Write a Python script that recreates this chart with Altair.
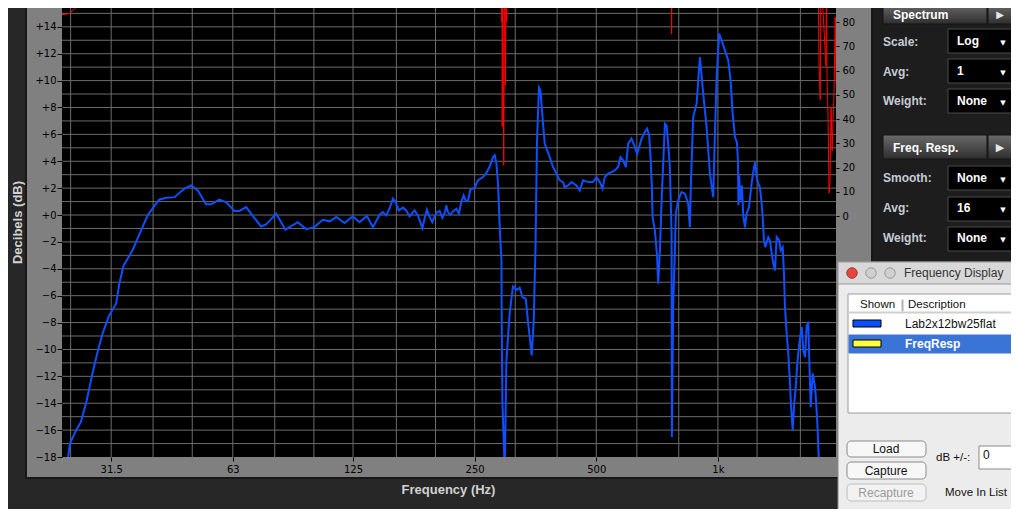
import altair as alt
import pandas as pd

# ---------------- data ----------------
# Blue curve: Lab2x12bw25flat (frequency in Hz, level in dB, left axis)
freq_hz = [24.5, 24.9, 25.8, 26.5, 27.4, 28.3, 29.2, 30.0, 31.1, 32.4,
           33.0, 33.8, 34.6, 35.6, 36.6, 38.8, 41.4, 43.1, 45.2, 47.8,
           49.7, 51.6, 54.1, 55.7, 58.3, 60.6, 63.6, 65.4, 68.0, 69.9,
           74.0, 76.2, 80.7, 85.0, 91.2, 95.7, 100.3, 105.2, 109.4, 113.6,
           119.1, 124.8, 129.7, 135.3, 140.0,
           145.4, 148.1, 151.0, 153.9, 156.9, 159.3, 162.3, 166.1, 169.3, 172.5,
           177.5, 180.9, 183.4, 185.6, 187.9, 190.4, 193.4, 196.4, 199.0, 201.7,
           204.8, 207.9, 211.1, 212.7, 214.6, 217.6, 220.9, 225.2, 228.6, 231.7,
           234.8, 237.5, 240.7, 243.9, 250.0, 254.7, 262.1, 267.2, 272.0, 277.6,
           280.3, 283.0, 285.6, 288.4,
           291.2, 291.8, 292.8, 296.7, 299.6, 302.3, 305.2, 310.9, 318.2, 323.1,
           328.3, 334.5, 338.9, 342.2, 346.0, 350.1, 352.1, 353.5, 355.5, 356.7,
           360.7, 363.7, 369.1, 372.7,
           383.5, 390.8, 398.5, 406.0, 413.7, 417.8, 425.7, 434.0, 446.6, 455.0,
           463.7, 477.1, 491.0, 500.6, 510.1, 518.0, 524.9, 534.8, 545.2, 555.7,
           566.2, 574.0, 582.6, 591.7, 599.6, 611.2, 622.8, 631.0, 638.3, 647.1,
           659.3, 668.0, 675.8, 681.1, 686.3,
           689.2, 698.1, 707.3, 711.5, 718.5, 725.5, 739.2, 746.4, 753.2, 760.5,
           767.9, 769.2, 774.9, 782.4, 786.9, 797.2, 812.8, 828.5, 844.1, 852.3,
           857.3, 868.5, 885.6, 902.4, 919.6, 937.6, 955.4, 973.5, 983.0, 992.6,
           1007.4, 1021.4, 1040.7, 1060.5, 1075.0, 1087.5, 1101.9,
           1114.5, 1120.9, 1124.1, 1129.2, 1135.6, 1146.7, 1155.2, 1166.5, 1177.9, 1193.4,
           1212.0, 1228.0, 1237.1, 1247.0, 1258.5, 1270.7, 1283.0, 1290.4, 1300.0, 1309.7,
           1332.3, 1345.3, 1358.4, 1370.9, 1384.3, 1397.7, 1418.5, 1429.9, 1446.4, 1457.2,
           1465.5,
           1479.8, 1493.4, 1508.0, 1516.6, 1531.3, 1542.7, 1560.4, 1572.1, 1590.1, 1612.1,
           1627.0, 1642.7, 1658.7, 1674.0, 1683.5, 1697.1, 1716.5, 1739.3, 1749.2, 1762.3,
           1776.4, 1789.6]
level_db = [-18.5, -17.0, -16.0, -15.4, -13.8, -11.8, -10.1, -8.8, -7.5, -6.6,
            -5.1, -3.75, -3.25, -2.6, -1.76, 0.0, 1.14, 1.29, 1.33, 1.96,
            2.2, 1.83, 0.8, 0.8, 1.14, 0.96, 0.3, 0.3, 0.59, 0.1,
            -0.85, -0.7, 0.1, -1.09, -0.53, -1.05, -0.9, -0.35, -0.47, -0.15,
            -0.6, -0.1, -0.53, -0.08, -0.9,
            0.02, 0.22, -0.03, 0.47, 1.22, 0.96, 0.34, 0.55, 0.34, -0.1,
            0.34, -0.03, -0.53, -0.97, -0.27, 0.4, -0.15, -0.53, -0.1, 0.22,
            0.29, -0.2, 0.22, 0.72, 0.22, 0.02, 0.27, 0.47, 0.1, 0.96,
            1.46, 1.09, 1.04, 1.88, 2.03, 2.58, 2.82, 3.12, 3.57, 4.31,
            4.44, 3.82, 2.33, -0.9,
            -3.37, -8.71, -13.92, -19.0, -10.82, -9.08, -7.34, -5.31, -5.56, -5.41,
            -6.1, -6.22, -7.97, -9.08, -10.44, -7.84, -4.62, -2.63, 2.58, 5.55,
            9.47, 9.27, 6.8, 5.31,
            4.31, 3.57, 3.08, 2.58, 2.45, 2.08, 2.2, 2.45, 2.2, 1.83,
            2.58, 2.45, 2.45, 2.82, 2.45, 1.96, 2.82, 3.08, 3.19, 3.32,
            3.57, 4.31, 4.07, 3.57, 5.31, 5.68, 5.06, 4.56, 5.06, 5.68,
            6.17, 6.42, 5.93, 4.31, 2.08,
            -0.15, -1.14, -3.13, -5.11, -2.63, 1.09, 6.8, 6.67, 5.31, 3.57,
            -1.39, -16.52, -6.85, -2.63, 0.1, 1.09, 1.71, 1.59, 0.84, -0.9,
            2.33, 7.29, 8.28, 11.75, 9.03, 6.54, 3.08, 1.33, 6.05, 10.26,
            13.49, 13.0, 12.25, 11.5, 10.0, 7.54, 5.8,
            5.4, 4.07, 0.72, 2.95, 1.09, 2.2, -0.03, -0.92, 0.12, 0.57,
            2.35, 3.54, 3.94, 2.82, 2.35, 2.06, 0.87, -0.18, -1.89, -2.39,
            -1.64, -1.89, -2.85, -3.6, -4.12, -1.64, -1.89, -2.63, -2.39, -4.34,
            -6.85,
            -8.81, -10.3, -12.53, -14.16, -16.02, -14.29, -12.53, -11.04, -9.55, -8.34,
            -10.07, -10.57, -8.21, -8.06, -10.82, -14.29, -11.78, -12.8, -13.79, -15.5,
            -18.0, -19.4]

# Red curve: spectrum (right axis units), mostly above the visible top
spec_freq_hz = [23.8, 24.8, 25.6, 26.6, 27.7, 290.5, 291.5, 292.2, 292.5, 293.5,
                295.0, 296.5, 298.0, 299.0, 300.0, 301.0, 766.0, 768.0, 770.0, 1770.0,
                1779.0, 1791.0, 1800.0, 1851.0, 1856.0, 1862.0, 1873.0, 1884.0, 1894.0, 1906.0,
                1917.0, 1928.0, 1939.0, 1951.0, 1960.0]
spec_level = [83.0, 83.5, 85.5, 88.0, 96.0, 100.0, 80.0, 100.0, 37.0, 100.0,
              21.0, 100.0, 54.0, 100.0, 80.0, 100.0, 100.0, 75.0, 100.0, 100.0,
              63.0, 48.0, 100.0, 62.0, 100.0, 58.0, 41.0, 9.5, 14.0, 45.0,
              27.0, 40.0, 52.0, 82.0, 55.0]

third_octave_hz = [25, 31.5, 40, 50, 63, 80, 100, 125, 160, 200, 250, 315, 400,
                   500, 630, 800, 1000, 1250, 1600]
octave_hz = [31.5, 63, 125, 250, 500, 1000]
db_grid = list(range(-17, 16))
db_labels = list(range(-18, 15, 2))
spec_labels = list(range(0, 90, 10))

# ---------------- layout ----------------
OX, OY = 62, 8          # plot origin on the page
PW, PH = 774, 449

xscale = alt.Scale(type="log", domain=[23.8, 1960], nice=False)
yscale = alt.Scale(domain=[-18, 15.4], nice=False, zero=False)
rscale = alt.Scale(domain=[-99.2, 85.8], nice=False, zero=False)

xaxis = alt.Axis(values=octave_hz,
                 labelExpr="datum.value >= 1000 ? '1k' : toString(datum.value)",
                 title="Frequency (Hz)", grid=False, domain=False,
                 tickColor="#000000", tickSize=4, tickWidth=1,
                 labelColor="#000000", labelFont="DejaVu Sans", labelFontSize=10,
                 labelBaseline="middle", labelPadding=8, labelFlush=False,
                 labelOverlap=False,
                 titleFont="Liberation Sans", titleFontSize=13, titleFontWeight="bold",
                 titleColor="#d2d2d2", titleX=386, titleY=32, titleAlign="center",
                 titleBaseline="middle", zindex=2)
yaxis = alt.Axis(values=db_labels,
                 labelExpr="datum.value >= 0 ? '+' + datum.value : '\u2212' + abs(datum.value)",
                 title="Decibels (dB)", grid=False, domain=False,
                 tickColor="#000000", tickSize=5, tickWidth=1,
                 labelColor="#000000", labelFont="DejaVu Sans", labelFontSize=10,
                 labelAlign="right", labelBaseline="middle", labelPadding=1,
                 labelOverlap=False, labelFlush=False,
                 titleFont="Liberation Sans", titleFontSize=13, titleFontWeight="bold",
                 titleColor="#d2d2d2", titleAngle=270, titleX=-45, titleY=214,
                 titleAlign="center", titleBaseline="middle", zindex=2)
raxis = alt.Axis(orient="right", values=spec_labels, title=None, grid=False,
                 domain=False, tickColor="#000000", tickSize=3,
                 labelColor="#000000", labelFont="DejaVu Sans", labelFontSize=10,
                 labelAlign="left", labelBaseline="middle", labelPadding=3,
                 labelOverlap=False, labelFlush=False, zindex=2)

# ---------------- data layers ----------------
grid_v = alt.Chart(pd.DataFrame({"f": third_octave_hz})).mark_rule(
    color="#6c6c6c", strokeWidth=1).encode(
    x=alt.X("f:Q", scale=xscale, axis=xaxis))
grid_h = alt.Chart(pd.DataFrame({"d": db_grid})).mark_rule(
    color="#6c6c6c", strokeWidth=1).encode(
    y=alt.Y("d:Q", scale=yscale, axis=None))

blue_df = pd.DataFrame({"f": freq_hz, "db": level_db, "i": range(len(freq_hz))})
blue = alt.Chart(blue_df).mark_line(color="#0f4fff", strokeWidth=2, clip=True).encode(
    x=alt.X("f:Q", scale=xscale, axis=xaxis),
    y=alt.Y("db:Q", scale=yscale, axis=yaxis),
    order="i:Q")

red_df = pd.DataFrame({"f": spec_freq_hz, "v": spec_level, "i": range(len(spec_freq_hz))})
red = alt.Chart(red_df).mark_line(color="#ff0000", strokeWidth=1, clip=True).encode(
    x=alt.X("f:Q", scale=xscale, axis=xaxis),
    y=alt.Y("v:Q", scale=rscale, axis=raxis),
    order="i:Q")

# ---------------- application chrome (page coordinates) ----------------
def rect_layer(rows, **mark):
    df = pd.DataFrame(rows, columns=["x1", "y1", "x2", "y2", "fill", "stroke"])
    df["x1"] -= OX; df["x2"] -= OX; df["y1"] -= OY; df["y2"] -= OY
    return alt.Chart(df).mark_rect(**mark).encode(
        x=alt.X("x1:Q", scale=None), x2="x2:Q",
        y=alt.Y("y1:Q", scale=None), y2="y2:Q",
        fill=alt.Fill("fill:N", scale=None),
        stroke=alt.Stroke("stroke:N", scale=None))

def text_layer(rows, font="Liberation Sans", weight="normal", align="left"):
    df = pd.DataFrame(rows, columns=["t", "x", "y", "c", "s"])
    df["x"] -= OX; df["y"] -= OY
    return alt.Chart(df).mark_text(font=font, fontWeight=weight, align=align,
                                   baseline="middle").encode(
        x=alt.X("x:Q", scale=None), y=alt.Y("y:Q", scale=None),
        text="t:N", color=alt.Color("c:N", scale=None),
        size=alt.Size("s:Q", scale=None))

GRAY = "#808080"
frame = rect_layer([
    (25, -10, 27, 479, "#171717", "#171717"),
    (27, -10, 62, 477, GRAY, GRAY),
    (27, 457, 836, 477, GRAY, GRAY),
    (27, 477, 871, 479, "#171717", "#171717"),
    (836, -10, 871, 477, GRAY, GRAY),
    (871, -10, 873, 479, "#171717", "#171717"),
    (873, -10, 1019, 262, "#1d1d1d", "#1d1d1d"),
], strokeWidth=0)

btn_grad = alt.Gradient(gradient="linear", x1=0, x2=0, y1=0, y2=1,
                        stops=[alt.GradientStop(color="#6a6a6a", offset=0),
                               alt.GradientStop(color="#2e2e2e", offset=1)])
buttons_df = pd.DataFrame([(883, 4, 987, 24), (988, 4, 1012, 24),
                           (883, 135, 987, 159), (988, 135, 1012, 159)],
                          columns=["x1", "y1", "x2", "y2"])
buttons_df["x1"] -= OX; buttons_df["x2"] -= OX
buttons_df["y1"] -= OY; buttons_df["y2"] -= OY
panel_buttons = alt.Chart(buttons_df).mark_rect(
    fill=btn_grad, stroke="#141414", strokeWidth=1).encode(
    x=alt.X("x1:Q", scale=None), x2="x2:Q",
    y=alt.Y("y1:Q", scale=None), y2="y2:Q")

dropdowns = rect_layer([
    (948, 29, 1012, 53, "#000000", "#4a4a4a"),
    (948, 59, 1012, 83, "#000000", "#4a4a4a"),
    (948, 89, 1012, 113, "#000000", "#4a4a4a"),
    (948, 166, 1012, 190, "#000000", "#4a4a4a"),
    (948, 197, 1012, 221, "#000000", "#4a4a4a"),
    (948, 227, 1012, 251, "#000000", "#4a4a4a"),
], strokeWidth=1)

panel_labels = text_layer([
    ("Spectrum", 893, 15, "#ffffff", 12), ("Freq. Resp.", 893, 148, "#ffffff", 12),
    ("Scale:", 883, 42, "#c6cbd6", 12), ("Avg:", 883, 72, "#c6cbd6", 12),
    ("Weight:", 883, 101, "#c6cbd6", 12), ("Smooth:", 883, 178, "#c6cbd6", 12),
    ("Avg:", 883, 208, "#c6cbd6", 12), ("Weight:", 883, 238, "#c6cbd6", 12),
    ("Log", 957, 41, "#ffffff", 12), ("1", 957, 71, "#ffffff", 12),
    ("None", 957, 101, "#ffffff", 12), ("None", 957, 178, "#ffffff", 12),
    ("16", 957, 208, "#ffffff", 12), ("None", 957, 238, "#ffffff", 12),
], weight="bold")
panel_arrows = text_layer([
    ("\u25B6", 1000, 15, "#e6e6e6", 10), ("\u25B6", 1000, 148, "#e6e6e6", 11),
    ("\u25BC", 1003, 43, "#ffffff", 7), ("\u25BC", 1003, 73, "#ffffff", 7),
    ("\u25BC", 1003, 103, "#ffffff", 7), ("\u25BC", 1003, 180, "#ffffff", 7),
    ("\u25BC", 1003, 210, "#ffffff", 7), ("\u25BC", 1003, 240, "#ffffff", 7),
], font="DejaVu Sans", align="center")

window = rect_layer([
    (838, 262, 1025, 520, "#ececec", "#8a8a8a"),
    (838, 262, 1025, 284, "#d8d8d8", "#9a9a9a"),
    (848, 294, 1025, 413, "#ffffff", "#9c9c9c"),
    (849, 312, 1025, 313, "#cfcfcf", "#cfcfcf"),
    (902, 300, 903, 311, "#b0b0b0", "#b0b0b0"),
    (849, 335, 1025, 353, "#3a74d6", "#3a74d6"),
    (853, 320, 881, 327, "#0a50ff", "#000000"),
    (853, 340, 881, 347, "#ffff40", "#000000"),
    (979, 446, 1017, 469, "#ffffff", "#8a8a8a"),
], strokeWidth=1)
window_buttons = rect_layer([
    (847, 441, 926, 457, "#f7f7f7", "#8a8a8a"),
    (847, 462, 926, 479, "#f7f7f7", "#8a8a8a"),
    (847, 484, 926, 501, "#f2f2f2", "#bdbdbd"),
], strokeWidth=1, cornerRadius=4)

lights_df = pd.DataFrame([(852, 273, "#e5463f", "#a83530"),
                          (871, 273, "#cfcfcf", "#9a9a9a"),
                          (890, 273, "#cfcfcf", "#9a9a9a")],
                         columns=["x", "y", "fill", "stroke"])
lights_df["x"] -= OX; lights_df["y"] -= OY
lights = alt.Chart(lights_df).mark_circle(size=110, opacity=1, strokeWidth=1).encode(
    x=alt.X("x:Q", scale=None), y=alt.Y("y:Q", scale=None),
    fill=alt.Fill("fill:N", scale=None), stroke=alt.Stroke("stroke:N", scale=None))

window_text = text_layer([
    ("Frequency Display", 904, 273, "#333333", 12),
    ("Shown", 860, 305, "#111111", 11.5), ("Description", 908, 305, "#111111", 11.5),
    ("Lab2x12bw25flat", 905, 324, "#111111", 12),
    ("dB +/-:", 936, 458, "#111111", 11.5), ("0", 983, 455, "#111111", 12),
    ("Move In List", 945, 493, "#111111", 11.5),
])
window_text_bold = text_layer([("FreqResp", 905, 344, "#ffffff", 12)], weight="bold")
window_btn_text = text_layer([
    ("Load", 886, 449, "#111111", 12), ("Capture", 886, 471, "#111111", 12),
    ("Recapture", 886, 493, "#9a9a9a", 12),
], align="center")

chart = alt.layer(
    frame, panel_buttons, dropdowns, panel_labels, panel_arrows,
    grid_v, grid_h, blue, red,
    window, window_buttons, lights, window_text, window_text_bold, window_btn_text,
).resolve_scale(y="independent").properties(
    width=PW, height=PH,
    autosize=alt.AutoSizeParams(type="none"),
    padding={"left": OX - 8, "top": OY - 8, "right": 1003 - (OX - 8) - PW,
             "bottom": 501 - PH - (OY - 8)},
    background="#272727",
).configure_view(fill="#000000", strokeWidth=0)

chart.save("out.html", embed_options={"renderer": "svg", "actions": False})
